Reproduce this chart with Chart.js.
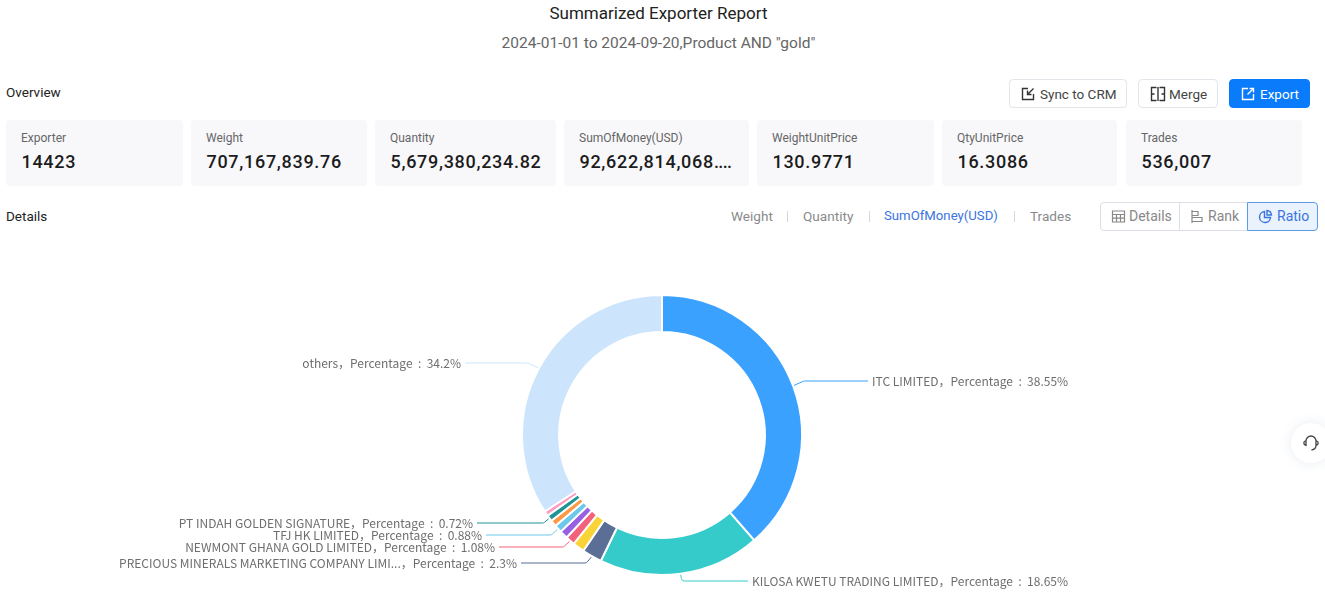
<!DOCTYPE html>
<html>
<head>
<meta charset="utf-8">
<title>Summarized Exporter Report</title>
<script src="https://cdn.jsdelivr.net/npm/chart.js@4"></script>
<style>
    html, body { margin: 0; padding: 0; background: #fff; overflow: hidden; }
    body { width: 1325px; height: 599px; position: relative; font-family: Roboto, sans-serif; color: #222; }
    .abs { position: absolute; white-space: nowrap; }
    .title { left: 0; width: 1317px; text-align: center; }
    .card { position: absolute; top: 120px; height: 66px; background: #f8f8fb; border-radius: 4px; }
    .card .name { position: absolute; left: 15px; top: 11px; font-size: 12px; color: #666; }
    .card .value { position: absolute; left: 15.5px; top: 31px; font-size: 18px; font-weight: 500; letter-spacing: 0.7px; color: #1c1c1c; }
    .card .value i { font-style: normal; letter-spacing: -0.6px; }
    .btn { position: absolute; top: 79px; height: 29px; box-sizing: border-box; border: 1px solid #e3e5ea; border-radius: 4px; font-size: 13.5px; color: #444; line-height: 28px; background: #fff; }
    .btn svg, .seg svg { position: absolute; top: 6px; }
    .btn span, .seg span { position: absolute; top: 0; }
    .tab { position: absolute; top: 207px; font-size: 13.6px; line-height: 18px; color: #8a8a8a; }
    .sep { position: absolute; top: 211px; width: 1px; height: 11px; background: #d8d8d8; }
    .seg { position: absolute; top: 202px; height: 29px; box-sizing: border-box; border: 1px solid #dcdfe6; font-size: 14px; color: #888; line-height: 27px; background: #fff; }
    #chartWrap { position: absolute; left: 0; top: 240px; width: 1325px; height: 359px; }
</style>
</head>
<body>
<div class="abs title" style="top:3px;font-size:17px;line-height:21px;color:#222">Summarized Exporter Report</div>
<div class="abs title" style="top:34px;font-size:15.5px;line-height:19px;color:#666">2024-01-01 to 2024-09-20,Product AND "gold"</div>

<div class="abs" style="left:6px;top:84px;font-size:13.5px;line-height:16px">Overview</div>
<div class="abs" style="left:6px;top:208px;font-size:13.5px;line-height:16px">Details</div>

<div id="cards"></div>

<div class="btn" style="left:1009px;width:118px">
    <svg style="left:10px" width="16" height="16" viewBox="0 0 16 16" fill="none" stroke="#333" stroke-width="1.4"><path d="M8 2.500H2.500v11h11V8"/><path d="M13.500 2.500 7.500 8.500M7.500 4.500v4h4"/></svg>
    <span style="left:30px">Sync to CRM</span>
</div>
<div class="btn" style="left:1138px;width:80px">
    <svg style="left:11px" width="16" height="16" viewBox="0 0 16 16" fill="none" stroke="#333" stroke-width="1.4"><path d="M6.500 1.500h-5v13h5M9.500 1.500h5v13h-5M1.500 8h3M11.500 8h3M8 1v14"/></svg>
    <span style="left:30px">Merge</span>
</div>
<div class="btn" style="left:1229px;width:81px;background:#0a7bfb;border-color:#0a7bfb;color:#fff">
    <svg style="left:10px" width="16" height="16" viewBox="0 0 16 16" fill="none" stroke="#fff" stroke-width="1.4"><path d="M8 2.500H2.500v11h11V8"/><path d="M7.500 8.500l6-6M9.500 2.500h4v4"/></svg>
    <span style="left:30px">Export</span>
</div>

<div class="tab" style="left:731px">Weight</div>
<div class="sep" style="left:787px"></div>
<div class="tab" style="left:803px">Quantity</div>
<div class="sep" style="left:869px"></div>
<div class="tab" style="left:884px;color:#3b74e0;font-size:13.2px">SumOfMoney(USD)</div>
<div class="sep" style="left:1014px"></div>
<div class="tab" style="left:1030px">Trades</div>

<div class="seg" style="left:1100px;width:80px;border-radius:4px 0 0 4px">
    <svg style="left:10px" width="15" height="15" viewBox="0 0 15 15" fill="none" stroke="#888" stroke-width="1.2"><path d="M1.500 2h12v11h-12zM1.500 5.500h12M1.500 9.200h12M5.500 5.500V13M9.500 5.500V13"/></svg>
    <span style="left:28px">Details</span>
</div>
<div class="seg" style="left:1179px;width:69px">
    <svg style="left:10px" width="15" height="15" viewBox="0 0 15 15" fill="none" stroke="#888" stroke-width="1.2"><path d="M2 1v13M2 2.500h6v4H2M2 8.500h10v4H2"/></svg>
    <span style="left:28px">Rank</span>
</div>
<div class="seg" style="left:1247px;width:71px;border-color:#5b9be8;background:#e9f2fd;color:#3b74e0;border-radius:0 4px 4px 0">
    <svg style="left:10px" width="15" height="15" viewBox="0 0 15 15" fill="none" stroke="#3b74e0" stroke-width="1.4"><path d="M6.500 2.500a5.500 5.500 0 1 0 6 6h-6z"/><path d="M9 1.500a5 5 0 0 1 4.500 4.500H9z"/></svg>
    <span style="left:29px">Ratio</span>
</div>

<div id="chartWrap"><canvas id="exporterRatio" width="1325" height="359"></canvas></div>

<div class="abs" style="left:1291px;top:423px;width:40px;height:40px;border-radius:20px;background:#fff;box-shadow:0 0 12px rgba(90,110,170,0.14)">
    <svg style="position:absolute;left:11px;top:11px" width="18" height="18" viewBox="0 0 18 18" fill="none" stroke="#444" stroke-width="1.3"><path d="M4 8V7a5 5 0 0 1 10 0v1M4 6.500C2.500 7 1.800 8 1.800 9s.7 2 2.200 2.500zM14 6.500c1.500.5 2.200 1.500 2.200 2.500s-.7 2-2.200 2.500zM14 11.500c0 2.500-1.500 4-4.500 4.500"/></svg>
</div>

<script>
(function () {
    const summary = [
        { name: "Exporter", value: "14423", left: 6, width: 177 },
        { name: "Weight", value: "707,167,839.76", left: 191, width: 176 },
        { name: "Quantity", value: "5,679,380,234.82", left: 375, width: 181 },
        { name: "SumOfMoney(USD)", value: "92,622,814,068<i>....</i>", left: 564, width: 185 },
        { name: "WeightUnitPrice", value: "130.9771", left: 757, width: 177 },
        { name: "QtyUnitPrice", value: "16.3086", left: 942, width: 175 },
        { name: "Trades", value: "536,007", left: 1126, width: 176 },
    ];
    const cards = document.getElementById("cards");
    summary.forEach(function (item) {
        cards.insertAdjacentHTML(
            "beforeend",
            `<div class="card" style="left:${item.left}px;width:${item.width}px"><div class="name">${item.name}</div><div class="value">${item.value}</div></div>`
        );
    });

    // the unlabelled slices have no text in the picture, their sizes are estimates
    const exporters = [
        { name: "ITC LIMITED", pct: 38.55, color: "#3aa1ff", label: { side: 1, y: 141, end: 868, dx: 10 } },
        { name: "KILOSA KWETU TRADING LIMITED", pct: 18.65, color: "#36cbcb", label: { side: 1, y: 341, end: 748, dx: 1 } },
        { name: "PRECIOUS MINERALS MARKETING COMPANY LIMI...", pct: 2.3, color: "#5b6e96", label: { side: -1, y: 323, end: 521, dx: 5 } },
        { name: "", pct: 1.35, color: "#fad337" },
        { name: "NEWMONT GHANA GOLD LIMITED", pct: 1.08, color: "#f2637b", label: { side: -1, y: 307, end: 499, dx: 6 } },
        { name: "", pct: 0.95, color: "#975fe4" },
        { name: "TFJ HK LIMITED", pct: 0.88, color: "#6dc8ec", label: { side: -1, y: 295, end: 486, dx: 6 } },
        { name: "", pct: 0.75, color: "#ff9845" },
        { name: "PT INDAH GOLDEN SIGNATURE", pct: 0.72, color: "#1e9493", label: { side: -1, y: 283, end: 477, dx: 5 } },
        { name: "", pct: 0.57, color: "#ff99c3" },
        { name: "others", pct: 34.2, color: "#cce5fd", label: { side: -1, y: 123, end: 465, dx: 10 } },
    ];

    const leaderLabels = {
        id: "leaderLabels",
        afterDatasetsDraw(chart) {
            const ctx = chart.ctx;
            const arcs = chart.getDatasetMeta(0).data;
            ctx.save();
            ctx.font = '12px "Noto Sans CJK SC", "Noto Sans", sans-serif';
            ctx.textBaseline = "middle";
            exporters.forEach(function (row, i) {
                if (!row.label) return;
                const arc = arcs[i];
                const mid = (arc.startAngle + arc.endAngle) / 2;
                const startX = arc.x + Math.cos(mid) * (arc.outerRadius + 1);
                const startY = arc.y + Math.sin(mid) * (arc.outerRadius + 1);
                ctx.beginPath();
                ctx.moveTo(startX, startY);
                ctx.arcTo(startX + row.label.side * row.label.dx, row.label.y, row.label.end, row.label.y, 3);
                ctx.lineTo(row.label.end, row.label.y);
                ctx.strokeStyle = row.color;
                ctx.lineWidth = 1;
                ctx.stroke();
                ctx.fillStyle = "#6e6e6e";
                ctx.textAlign = row.label.side > 0 ? "left" : "right";
                ctx.fillText(
                    row.name + "，Percentage  :  " + row.pct + "%",
                    row.label.end + row.label.side * 4,
                    row.label.y
                );
            });
            ctx.restore();
        },
    };

    new Chart(document.getElementById("exporterRatio").getContext("2d"), {
        type: "doughnut",
        data: {
            labels: exporters.map((item) => item.name),
            datasets: [
                {
                    data: exporters.map((item) => item.pct),
                    backgroundColor: exporters.map((item) => item.color),
                    borderColor: "#fff",
                    borderWidth: 2,
                    hoverOffset: 0,
                },
            ],
        },
        options: {
            responsive: false,
            animation: false,
            cutout: "73.5%",
            layout: { padding: { left: 521, right: 522, top: 54, bottom: 23 } },
            plugins: { legend: { display: false }, tooltip: { enabled: false } },
        },
        plugins: [leaderLabels],
    });
})();
</script>
</body>
</html>
